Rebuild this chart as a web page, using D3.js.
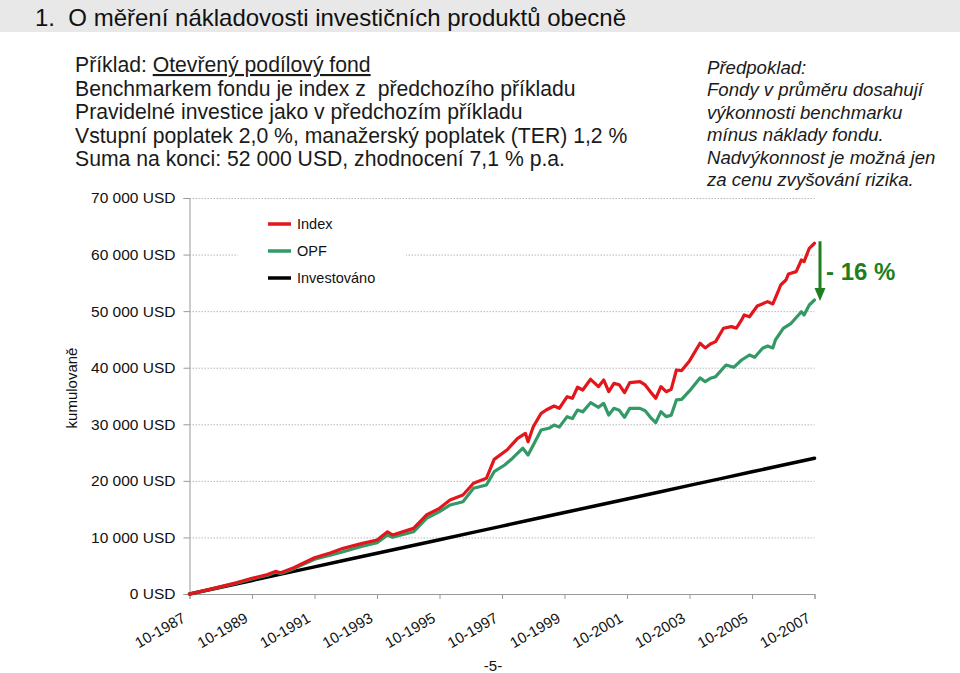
<!DOCTYPE html>
<html>
<head>
<meta charset="utf-8">
<script src="https://cdn.jsdelivr.net/npm/d3@7"></script>
<style>
  html, body { margin: 0; padding: 0; background: #fff; }
  svg { display: block; font-family: "Liberation Sans", Arial, sans-serif; }
</style>
</head>
<body>
<script>
// ---------- DATA ----------
const seriesNames = ["Index", "OPF", "Investováno"];
const seriesColors = ["#e3161b", "#339966", "#000000"];

const indexDates = ["1987-10","1988-04","1988-10","1989-04","1989-10","1990-04","1990-07","1990-09","1991-02","1991-10",
  "1992-04","1992-09","1993-04","1993-10","1994-02","1994-04","1994-12","1995-05","1995-10","1996-02",
  "1996-07","1996-11","1997-04","1997-07","1997-12","1998-04","1998-07","1998-08","1998-10","1999-01",
  "1999-03","1999-06","1999-08","1999-11","2000-01","2000-03","2000-05","2000-08","2000-11","2001-01",
  "2001-03","2001-05","2001-07","2001-09","2001-11","2002-03","2002-05","2002-07","2002-09","2002-11",
  "2003-01","2003-03","2003-05","2003-07","2003-10","2004-02","2004-04","2004-06","2004-08","2004-11",
  "2005-02","2005-04","2005-06","2005-07","2005-09","2005-12","2006-04","2006-06","2006-08","2006-09",
  "2006-11","2006-12","2007-03","2007-05","2007-06","2007-08","2007-10"];
const indexValues = [0,640,1300,2000,2780,3450,4000,3750,4650,6400,
  7250,8070,8900,9540,11000,10430,11600,13960,15140,16620,
  17500,19570,20450,23800,25500,27520,28400,26900,29570,31940,
  32520,33230,32820,34880,34590,36540,36060,37950,36650,37830,
  35760,37240,37000,35590,37360,37530,36950,35760,34590,36650,
  35760,36180,39600,39500,41200,44320,43500,44190,44610,46970,
  47260,47000,48440,49320,49000,50910,51680,51270,53450,54620,
  55500,56570,56980,59040,58750,61110,62000];

const opfDates = ["1987-10","1988-04","1988-10","1989-04","1989-10","1990-04","1990-07","1990-09","1991-02","1991-10",
  "1992-04","1992-09","1993-04","1993-10","1994-02","1994-04","1994-12","1995-05","1995-10","1996-02",
  "1996-07","1996-11","1997-04","1997-07","1997-11","1998-02","1998-06","1998-08","1998-11","1999-01",
  "1999-04","1999-06","1999-08","1999-11","2000-01","2000-03","2000-05","2000-08","2000-11","2001-01",
  "2001-03","2001-05","2001-07","2001-09","2001-11","2002-03","2002-05","2002-07","2002-09","2002-11",
  "2003-01","2003-03","2003-05","2003-07","2003-10","2004-02","2004-04","2004-06","2004-08","2004-12",
  "2005-03","2005-06","2005-09","2005-11","2006-02","2006-04","2006-06","2006-07","2006-10","2007-01",
  "2007-05","2007-06","2007-08","2007-10"];
const opfValues = [0,620,1260,1930,2680,3330,3860,3640,4480,6150,
  6850,7480,8400,9070,10430,10020,11000,13380,14550,15730,
  16320,18690,19270,21620,22800,24000,25770,24570,27220,28990,
  29290,29870,29500,31350,31000,32520,32200,33820,33000,33700,
  31640,32820,32500,31230,32820,32820,32400,31230,30290,32230,
  31350,31600,34300,34400,35900,38200,37530,38130,38420,40480,
  40070,41360,42250,41840,43430,43830,43500,44900,46970,47850,
  49900,49300,51090,51970];

const investDates = ["1987-10","1988-10","1989-10","1990-10","1991-10","1992-10","1993-10","1994-10","1995-10","1996-10",
  "1997-10","1998-10","1999-10","2000-10","2001-10","2002-10","2003-10","2004-10","2005-10","2006-10","2007-10"];
const investValues = [0,1200,2400,3600,4800,6000,7200,8400,9600,10800,
  12000,13200,14400,15600,16800,18000,19200,20400,21600,22800,24000];

const xTickLabels = ["10-1987","10-1989","10-1991","10-1993","10-1995","10-1997","10-1999","10-2001","10-2003","10-2005","10-2007"];
const yTickValues = [0,10000,20000,30000,40000,50000,60000,70000];
const yAxisTitle = "kumulovaně";

const titleText = "1.  O měření nákladovosti investičních produktů obecně";
const leftTextLines = [
  ["Příklad: ", "Otevřený podílový fond"],
  ["Benchmarkem fondu je index z  předchozího příkladu"],
  ["Pravidelné investice jako v předchozím příkladu"],
  ["Vstupní poplatek 2,0 %, manažerský poplatek (TER) 1,2 %"],
  ["Suma na konci: 52 000 USD, zhodnocení 7,1 % p.a."]
];
const rightTextLines = ["Předpoklad:", "Fondy v průměru dosahují", "výkonnosti benchmarku",
  "mínus náklady fondu.", "Nadvýkonnost je možná jen", "za cenu zvyšování rizika."];
const diffLabel = "- 16 %";
const pageLabel = "-5-";

// ---------- CHART ----------
const parseYM = d3.timeParse("%Y-%m");
const parseMY = d3.timeParse("%m-%Y");

const svg = d3.select("body").append("svg").attr("width", 960).attr("height", 673);

// title bar
svg.append("rect").attr("x", 0).attr("y", 0).attr("width", 960).attr("height", 32).attr("fill", "#e8e8e8");
svg.append("text").attr("x", 35).attr("y", 26).attr("font-size", 24).attr("fill", "#111")
  .style("white-space", "pre").text(titleText);

// left text block
const lt = svg.append("g").attr("font-size", 21.2).attr("fill", "#1a1a1a");
leftTextLines.forEach((parts, i) => {
  const t = lt.append("text").attr("x", 75).attr("y", 72 + i * 23.5).style("white-space", "pre");
  parts.forEach((p, j) => {
    const ts = t.append("tspan").text(p);
    if (j === 1) ts.attr("text-decoration", "underline");
  });
});

// right text block
const rt = svg.append("g").attr("font-size", 18.6).attr("font-style", "italic").attr("fill", "#1a1a1a");
rightTextLines.forEach((s, i) => {
  rt.append("text").attr("x", 707).attr("y", 73.5 + i * 22.5).text(s);
});

// scales
const x = d3.scaleTime()
  .domain([parseYM("1987-10"), parseYM("2007-10")])
  .range([189.5, 814.5]);
const y = d3.scaleLinear().domain([0, 70000]).range([594, 198]);

// gridlines
svg.append("g").selectAll("line").data(yTickValues.filter(v => v > 0)).join("line")
  .attr("x1", x.range()[0]).attr("x2", x.range()[1])
  .attr("y1", d => y(d) + 0.5).attr("y2", d => y(d) + 0.5)
  .attr("stroke", "#b8b8b8").attr("stroke-width", 1).attr("stroke-dasharray", "1.5,1.5");

// y axis
const fmt = v => d3.format(",")(v).replace(/,/g, " ") + " USD";
const yAxis = d3.axisLeft(y).tickValues(yTickValues).tickSize(6).tickPadding(8).tickFormat(fmt);
const gy = svg.append("g").attr("transform", `translate(${x.range()[0]},0)`).call(yAxis);
gy.select(".domain").attr("stroke", "#999");
gy.selectAll(".tick line").attr("stroke", "#999");
gy.selectAll(".tick text").attr("font-size", 15.5).attr("fill", "#111")
  .attr("font-family", "'Liberation Sans', Arial, sans-serif");

// x axis
const xTicks = xTickLabels.map(s => parseMY(s));
const xAxis = d3.axisBottom(x).tickValues(xTicks).tickSize(5).tickFormat((d, i) => xTickLabels[i]);
const gx = svg.append("g").attr("transform", `translate(0,${y(0)})`).call(xAxis);
gx.select(".domain").attr("stroke", "#999");
gx.selectAll(".tick line").attr("stroke", "#999");
gx.selectAll(".tick text")
  .attr("font-size", 15).attr("fill", "#111")
  .attr("font-family", "'Liberation Sans', Arial, sans-serif")
  .attr("text-anchor", "end").attr("y", 0).attr("dy", 0)
  .attr("transform", "translate(-3.5,27) rotate(-30)");

// y axis title
svg.append("text").attr("transform", "translate(77,388) rotate(-90)")
  .attr("text-anchor", "middle").attr("font-size", 15).attr("fill", "#111").text(yAxisTitle);

// lines
const line = d3.line().x(d => x(d.date)).y(d => y(d.value));
const series = [
  { name: seriesNames[2], color: seriesColors[2], w: 3.5, data: investDates.map((d, i) => ({ date: parseYM(d), value: investValues[i] })) },
  { name: seriesNames[1], color: seriesColors[1], w: 3.2, data: opfDates.map((d, i) => ({ date: parseYM(d), value: opfValues[i] })) },
  { name: seriesNames[0], color: seriesColors[0], w: 3.2, data: indexDates.map((d, i) => ({ date: parseYM(d), value: indexValues[i] })) }
];
svg.append("g").selectAll("path").data(series).join("path")
  .attr("d", d => line(d.data)).attr("fill", "none")
  .attr("stroke", d => d.color).attr("stroke-width", d => d.w)
  .attr("stroke-linejoin", "round").attr("stroke-linecap", "round");

// legend
const lg = svg.append("g");
lg.append("rect").attr("x", 238).attr("y", 205).attr("width", 168).attr("height", 95).attr("fill", "#fff");
seriesNames.forEach((n, i) => {
  const yy = 224 + i * 27;
  lg.append("line").attr("x1", 268).attr("x2", 291).attr("y1", yy).attr("y2", yy)
    .attr("stroke", seriesColors[i]).attr("stroke-width", 3.5);
  lg.append("text").attr("x", 297).attr("y", yy + 5).attr("font-size", 14.5).attr("fill", "#111").text(n);
});

// difference arrow
const endIdx = indexValues[indexValues.length - 1];
const endOpf = opfValues[opfValues.length - 1];
const ax = 820;
const green = "#1f7f1f";
svg.append("line").attr("x1", ax).attr("x2", ax).attr("y1", y(endIdx) - 2).attr("y2", y(endOpf) - 10)
  .attr("stroke", green).attr("stroke-width", 3);
svg.append("path")
  .attr("d", `M${ax - 5.5},${y(endOpf) - 12} L${ax + 5.5},${y(endOpf) - 12} L${ax},${y(endOpf) + 1} Z`)
  .attr("fill", green);
svg.append("text").attr("x", 826).attr("y", 280).attr("font-size", 24).attr("font-weight", "bold")
  .attr("fill", green).style("white-space", "pre").text(diffLabel);

// page number
svg.append("text").attr("x", 493).attr("y", 671).attr("text-anchor", "middle")
  .attr("font-size", 15).attr("fill", "#111").text(pageLabel);
</script>
</body>
</html>
